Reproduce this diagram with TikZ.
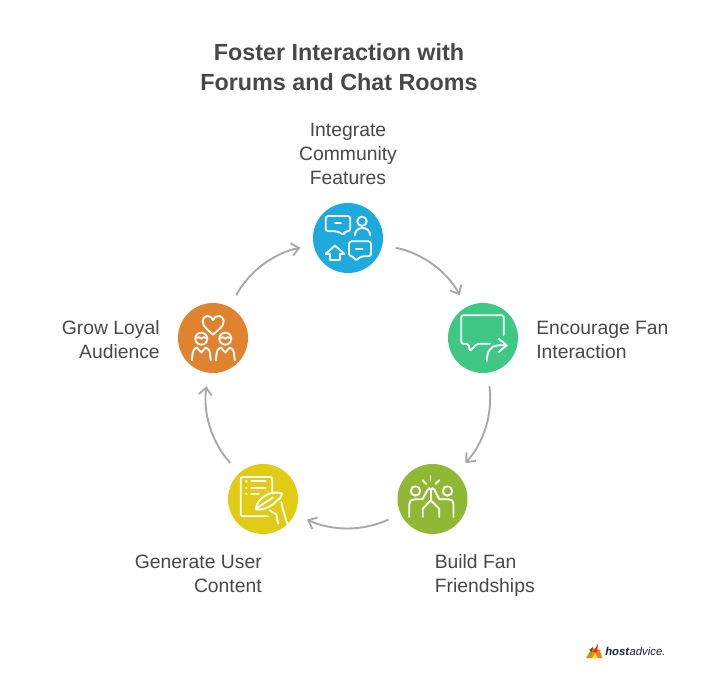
\documentclass[tikz,border=0pt]{standalone}
\usepackage{fontspec}
\setmainfont{Liberation Sans}
\usetikzlibrary{arrows.meta}
\definecolor{cblue}{HTML}{1EAADC}
\definecolor{cgreen}{HTML}{3EC785}
\definecolor{colive}{HTML}{8FB935}
\definecolor{cyellow}{HTML}{E2CB14}
\definecolor{corange}{HTML}{E0832F}
\definecolor{ctext}{HTML}{484848}
\definecolor{carrow}{HTML}{A8A8A8}
\definecolor{cnavy}{HTML}{1D2040}
\tikzset{
  disc/.style={circle,minimum size=52.5pt,inner sep=0pt,draw=none},
  lab/.style={inner sep=0pt,text=ctext,font=\fontsize{14.5}{18}\selectfont},
  ttl/.style={inner sep=0pt,text=ctext,align=center,font=\fontsize{17.5}{22.5}\selectfont\bfseries},
  link/.style={draw=carrow,line width=1.4pt,-{Straight Barb[length=5.5pt,width=9.5pt,line width=1.4pt]},bend left=25,shorten <=10pt,shorten >=10pt},
  ico/.style={draw=white,line width=1.4pt,line cap=round,line join=round},
}
\begin{document}
\begin{tikzpicture}[x=0.75pt,y=0.75pt]
\useasboundingbox (0,0) rectangle (726,-688);
\fill[white] (0,0) rectangle (726,-688);

\node[ttl] (title) at (339,-67) {Foster Interaction with\\Forums and Chat Rooms};

\node[disc,fill=cblue] (blue) at (348,-238) {};
\node[disc,fill=cgreen] (green) at (483,-338) {};
\node[disc,fill=colive] (olive) at (432.5,-499) {};
\node[disc,fill=cyellow] (yellow) at (263,-499) {};
\node[disc,fill=corange] (orange) at (213,-338) {};

\node[lab,align=center] (l1) at (348,-154) {Integrate\\Community\\Features};
\node[lab,align=left,anchor=west] (l2) at (536,-340) {Encourage Fan\\Interaction};
\node[lab,align=left,anchor=west] (l3) at (434.5,-575.5) {Build Fan\\Friendships};
\node[lab,align=right,anchor=east] (l4) at (262,-574) {Generate User\\Content};
\node[lab,align=right,anchor=east] (l5) at (160,-340) {Grow Loyal\\Audience};

\draw[link] (blue) to (green);
\draw[link] (green) to (olive);
\draw[link] (olive) to (yellow);
\draw[link] (yellow) to (orange);
\draw[link] (orange) to (blue);

% blue icon
\begin{scope}[shift={(blue.center)},ico]
  \draw[rounded corners=2pt] (-10.3,6.7) -- (-22.3,6.7) -- (-22.3,22) -- (2.3,22) -- (2.3,6.7) -- (-3.7,6.7) -- (-3.7,2.7) -- cycle;
  \draw (-13,15) -- (-7,15);
  \draw (14,16.7) circle[radius=4.7];
  \draw (6.7,2.7) .. controls (7.5,12.5) and (21.5,12.5) .. (22.3,2.7);
  \draw[rounded corners=2pt] (13,-18.3) -- (23,-18.3) -- (23,-3.3) -- (1,-3.3) -- (1,-18.3) -- (5.7,-18.3) -- (7.3,-23) -- cycle;
  \draw (8,-10.7) -- (14.7,-10.7);
  \draw (-22.3,-15.7) -- (-13,-7.7) -- (-3.7,-15.7);
  \draw (-22.3,-15.7) -- (-18.3,-15.7) -- (-18.3,-22.3) -- (-7.7,-22.3) -- (-7.7,-15.7) -- (-3.7,-15.7);
\end{scope}

% green icon
\begin{scope}[shift={(green.center)},ico]
  \draw[rounded corners=1.5pt] (20.7,3) -- (20.7,22.7) -- (-21.7,22.7) -- (-21.7,-5.7) -- (-14.3,-5.7) -- (-13.3,-13.3) -- (-6,-5.7) -- (7,-5.7);
  \draw (4,-23) .. controls (3.5,-14) and (8,-7.3) .. (15,-7.3) -- (23.7,-7.3);
  \draw (15.7,-0.7) -- (23.7,-7.3) -- (15.7,-14);
\end{scope}

% olive icon
\begin{scope}[shift={(olive.center)},ico]
  \draw (-2,23) -- (-2,18.3);
  \draw (-9.7,18.7) -- (-6.3,15);
  \draw (6.7,18.7) -- (3,15);
  \draw (-17,8) circle[radius=4.7];
  \draw (15,8) circle[radius=4.7];
  \draw (-23.3,-18) -- (-23.3,-5) .. controls (-23.3,-2) and (-21,-0.3) .. (-18,-0.3) -- (-10,-0.3) -- (-5,9) .. controls (-4,11.5) and (-2.5,11.5) .. (-1.7,9);
  \draw (21,-18) -- (21,-5) .. controls (21,-2) and (19,-0.3) .. (16,-0.3) -- (7,-0.3) -- (2,9) .. controls (1,11.5) and (-1,11.5) .. (-1.7,9);
  \draw (-1.7,9) -- (-1.7,-1.3);
  \draw (-9.7,-18) -- (-9.7,-9.7) -- (-1.7,-1.3) -- (6.7,-9.7) -- (6.7,-18);
\end{scope}

% yellow icon
\begin{scope}[shift={(yellow.center)},ico]
  \draw[rounded corners=1.5pt] (9.3,5.3) -- (9.3,22) -- (-22.3,22) -- (-22.3,-17.3) -- (5,-17.3);
  \fill[white,draw=none] (-16.7,17.7) circle[radius=1.3] (-16.7,11) circle[radius=1.3] (-16.7,5.3) circle[radius=1.3];
  \draw (-11.7,17.7) -- (2.7,17.7);
  \draw (-11.7,11) -- (2.7,11);
  \draw (-11.7,5.3) -- (-4,5.3);
  \draw (-7.3,-10.3) .. controls (-7,-5) and (-3,0) .. (1.7,3) .. controls (7,6.5) and (13,7.5) .. (19,5.5) .. controls (18,1.5) and (16,-1) .. (13.3,-2) .. controls (11,-5) and (8.5,-7) .. (5.5,-8) .. controls (2,-10) and (-3,-11) .. (-7.3,-10.3);
  \draw (-6,-9) -- (10,1.5);
  \draw (6.7,-11.3) -- (13.5,-15.5) -- (15,-24.7);
  \draw (18.3,-3) -- (20,-11) -- (24.3,-24.7);
\end{scope}

% orange icon
\begin{scope}[shift={(orange.center)},ico]
  \draw (0,3.3) .. controls (-5,8) and (-10.3,11) .. (-10.3,17) .. controls (-10.3,22) and (-3,25) .. (0,17.7) .. controls (3,25) and (10.7,22) .. (10.7,17) .. controls (10.7,11) and (5,8) .. (0,3.3) -- cycle;
  \foreach \cx in {-11.7,12.3}{
    \begin{scope}[xshift=\cx*0.75pt]
      \draw (0,-0.7) circle[radius=6];
      \draw (-5.7,0) .. controls (-3,1.5) and (-1,0.8) .. (0,-0.7) .. controls (1,0.8) and (3,1.5) .. (5.7,0);
      \draw (-9.5,-22.3) -- (-8.5,-14) .. controls (-8,-11.5) and (-6.5,-10.5) .. (-4.5,-9.5) -- (0,-14.5) -- (4.5,-9.5) .. controls (6.5,-10.5) and (8,-11.5) .. (8.5,-14) -- (9.5,-22.3);
    \end{scope}
  }
\end{scope}

% logo
\node[inner sep=0pt,anchor=west,text=cnavy,font=\fontsize{8.5}{11}\selectfont] (logo) at (605,-651) {\textbf{\textit{host}}\textit{advice.}};
\fill[corange] (586,-658) -- (592,-648) -- (600,-650) -- (602,-658) -- cycle;
\fill[red!75!orange] (593,-652) -- (598,-644) -- (597,-652) -- cycle;
\fill[green!55!black] (589,-650) -- (593,-647) -- (592,-652) -- cycle;
\fill[yellow!85!orange] (592,-658) -- (595,-653) -- (598,-658) -- cycle;
\end{tikzpicture}
\end{document}
